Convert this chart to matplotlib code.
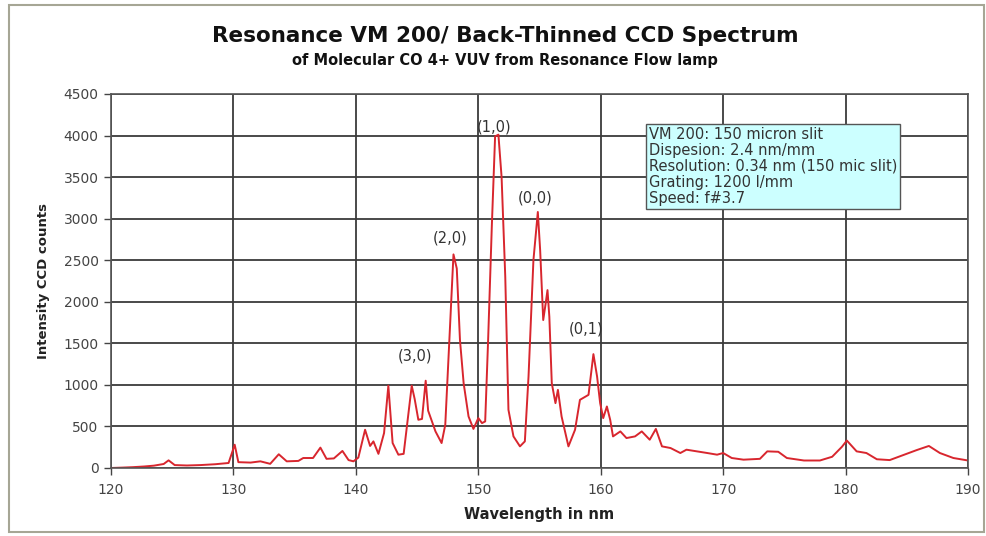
import numpy as np
import matplotlib
matplotlib.use("Agg")
import matplotlib.pyplot as plt
from matplotlib.patches import Rectangle

# spectrum
wavelength = [120.0, 121.0, 121.8, 122.7, 123.5, 124.3, 124.7, 125.2, 126.2, 127.3, 128.5,
              129.6, 130.1, 130.4, 131.4, 132.2, 133.0, 133.7, 134.35, 135.3, 135.7, 136.5,
              137.1, 137.6, 138.2, 138.9, 139.4, 139.8, 140.2, 140.75, 141.16, 141.43, 141.84,
              142.3, 142.65, 143.0, 143.47, 143.9, 144.56, 144.8, 145.1, 145.4, 145.7, 145.9,
              146.5, 147.0, 147.3, 147.7, 147.97, 148.24, 148.5, 148.8, 149.2, 149.6, 150.0,
              150.3, 150.56, 150.8, 151.1, 151.37, 151.64, 151.9, 152.2, 152.46, 152.87, 153.4,
              153.8, 154.1, 154.5, 154.86, 155.05, 155.3, 155.5, 155.65, 155.8, 156.0, 156.3,
              156.5, 156.8, 157.36, 157.9, 158.3, 159.0, 159.4, 159.7, 159.95, 160.2, 160.5,
              160.77, 161.0, 161.6, 162.1, 162.8, 163.35, 164.0, 164.5, 165.0, 165.7, 166.5,
              167.0, 167.85, 168.7, 169.5, 170.0, 170.7, 171.66, 173.0, 173.6, 174.5, 175.2,
              176.6, 177.9, 178.9, 179.7, 180.1, 180.9, 181.7, 182.55, 183.6, 184.7, 185.8,
              186.8, 187.7, 188.8, 190.0]
counts = [0, 5, 10, 18, 28, 48, 92, 35, 30, 35, 45,
          60, 280, 70, 65, 80, 50, 165, 80, 85, 120, 120,
          245, 110, 115, 205, 95, 80, 125, 460, 265, 320, 170,
          420, 990, 300, 160, 170, 990, 830, 580, 590, 1050, 690,
          440, 300, 520, 1740, 2570, 2400, 1540, 1020, 620, 470, 600,
          540, 560, 1540, 2900, 3990, 4010, 3500, 2300, 700, 380, 260,
          320, 1100, 2500, 3080, 2620, 1780, 1980, 2140, 1820, 1020, 780,
          940, 620, 260, 460, 820, 880, 1370, 1100, 780, 600, 740,
          580, 380, 440, 360, 380, 440, 340, 470, 260, 240, 180,
          220, 200, 180, 160, 180, 120, 100, 110, 200, 195, 120,
          90, 90, 135, 255, 330, 200, 180, 105, 95, 155, 215,
          265, 180, 120, 90]

band_labels = ["(3,0)", "(2,0)", "(1,0)", "(0,0)", "(0,1)"]
band_x = [144.8, 147.7, 151.3, 154.6, 158.8]
band_y = [1350, 2770, 4100, 3250, 1670]

info_lines = ["VM 200: 150 micron slit",
              "Dispesion: 2.4 nm/mm",
              "Resolution: 0.34 nm (150 mic slit)",
              "Grating: 1200 l/mm",
              "Speed: f#3.7"]

plt.rcParams['font.family'] = ['DejaVu Sans']

fig = plt.figure(figsize=(9.87, 5.36), dpi=100)
fig.patch.set_facecolor('white')
ax = fig.add_axes([0.1125, 0.1269, 0.8683, 0.6978])

ax.plot(wavelength, counts, color='#d8262e', lw=1.4)

ax.set_xlim(120, 190)
ax.set_ylim(0, 4500)
ax.set_xticks(np.arange(120, 191, 10))
ax.set_yticks(np.arange(0, 4501, 500))
ax.grid(True, color='#3a3a3a', lw=1.3)
ax.set_axisbelow(True)
for s in ax.spines.values():
    s.set_color('#555555')
    s.set_linewidth(1.2)
ax.tick_params(axis='both', colors='#444444', labelsize=10, length=5, width=1.0, pad=4)
ax.tick_params(axis='x', pad=6)

ax.set_xlabel('Wavelength in nm', fontsize=10.5, fontweight='bold', color='#222222', labelpad=7)
ax.set_ylabel('Intensity CCD counts', fontsize=9.5, fontweight='bold', color='#222222', labelpad=10)

for lab, x, y in zip(band_labels, band_x, band_y):
    ax.text(x, y, lab, ha='center', va='center', fontsize=10.5, color='#333333')

ax.text(163.9, 4105, "\n".join(info_lines), ha='left', va='top', fontsize=10.5,
        color='#333333', linespacing=1.08,
        bbox=dict(boxstyle='square,pad=0.2', facecolor='#ccffff', edgecolor='#555555', lw=1.0))

fig.text(0.512, 0.933, 'Resonance VM 200/ Back-Thinned CCD Spectrum', ha='center', va='center',
         fontsize=15.5, fontweight='bold', color='#111111')
fig.text(0.512, 0.888, 'of Molecular CO 4+ VUV from Resonance Flow lamp', ha='center', va='center',
         fontsize=10.5, fontweight='bold', color='#111111')

fig.patches.append(Rectangle((0.009, 0.008), 0.988, 0.982, transform=fig.transFigure,
                             fill=False, edgecolor='#a6a695', lw=1.5))

fig.savefig('out.png', dpi=100)
